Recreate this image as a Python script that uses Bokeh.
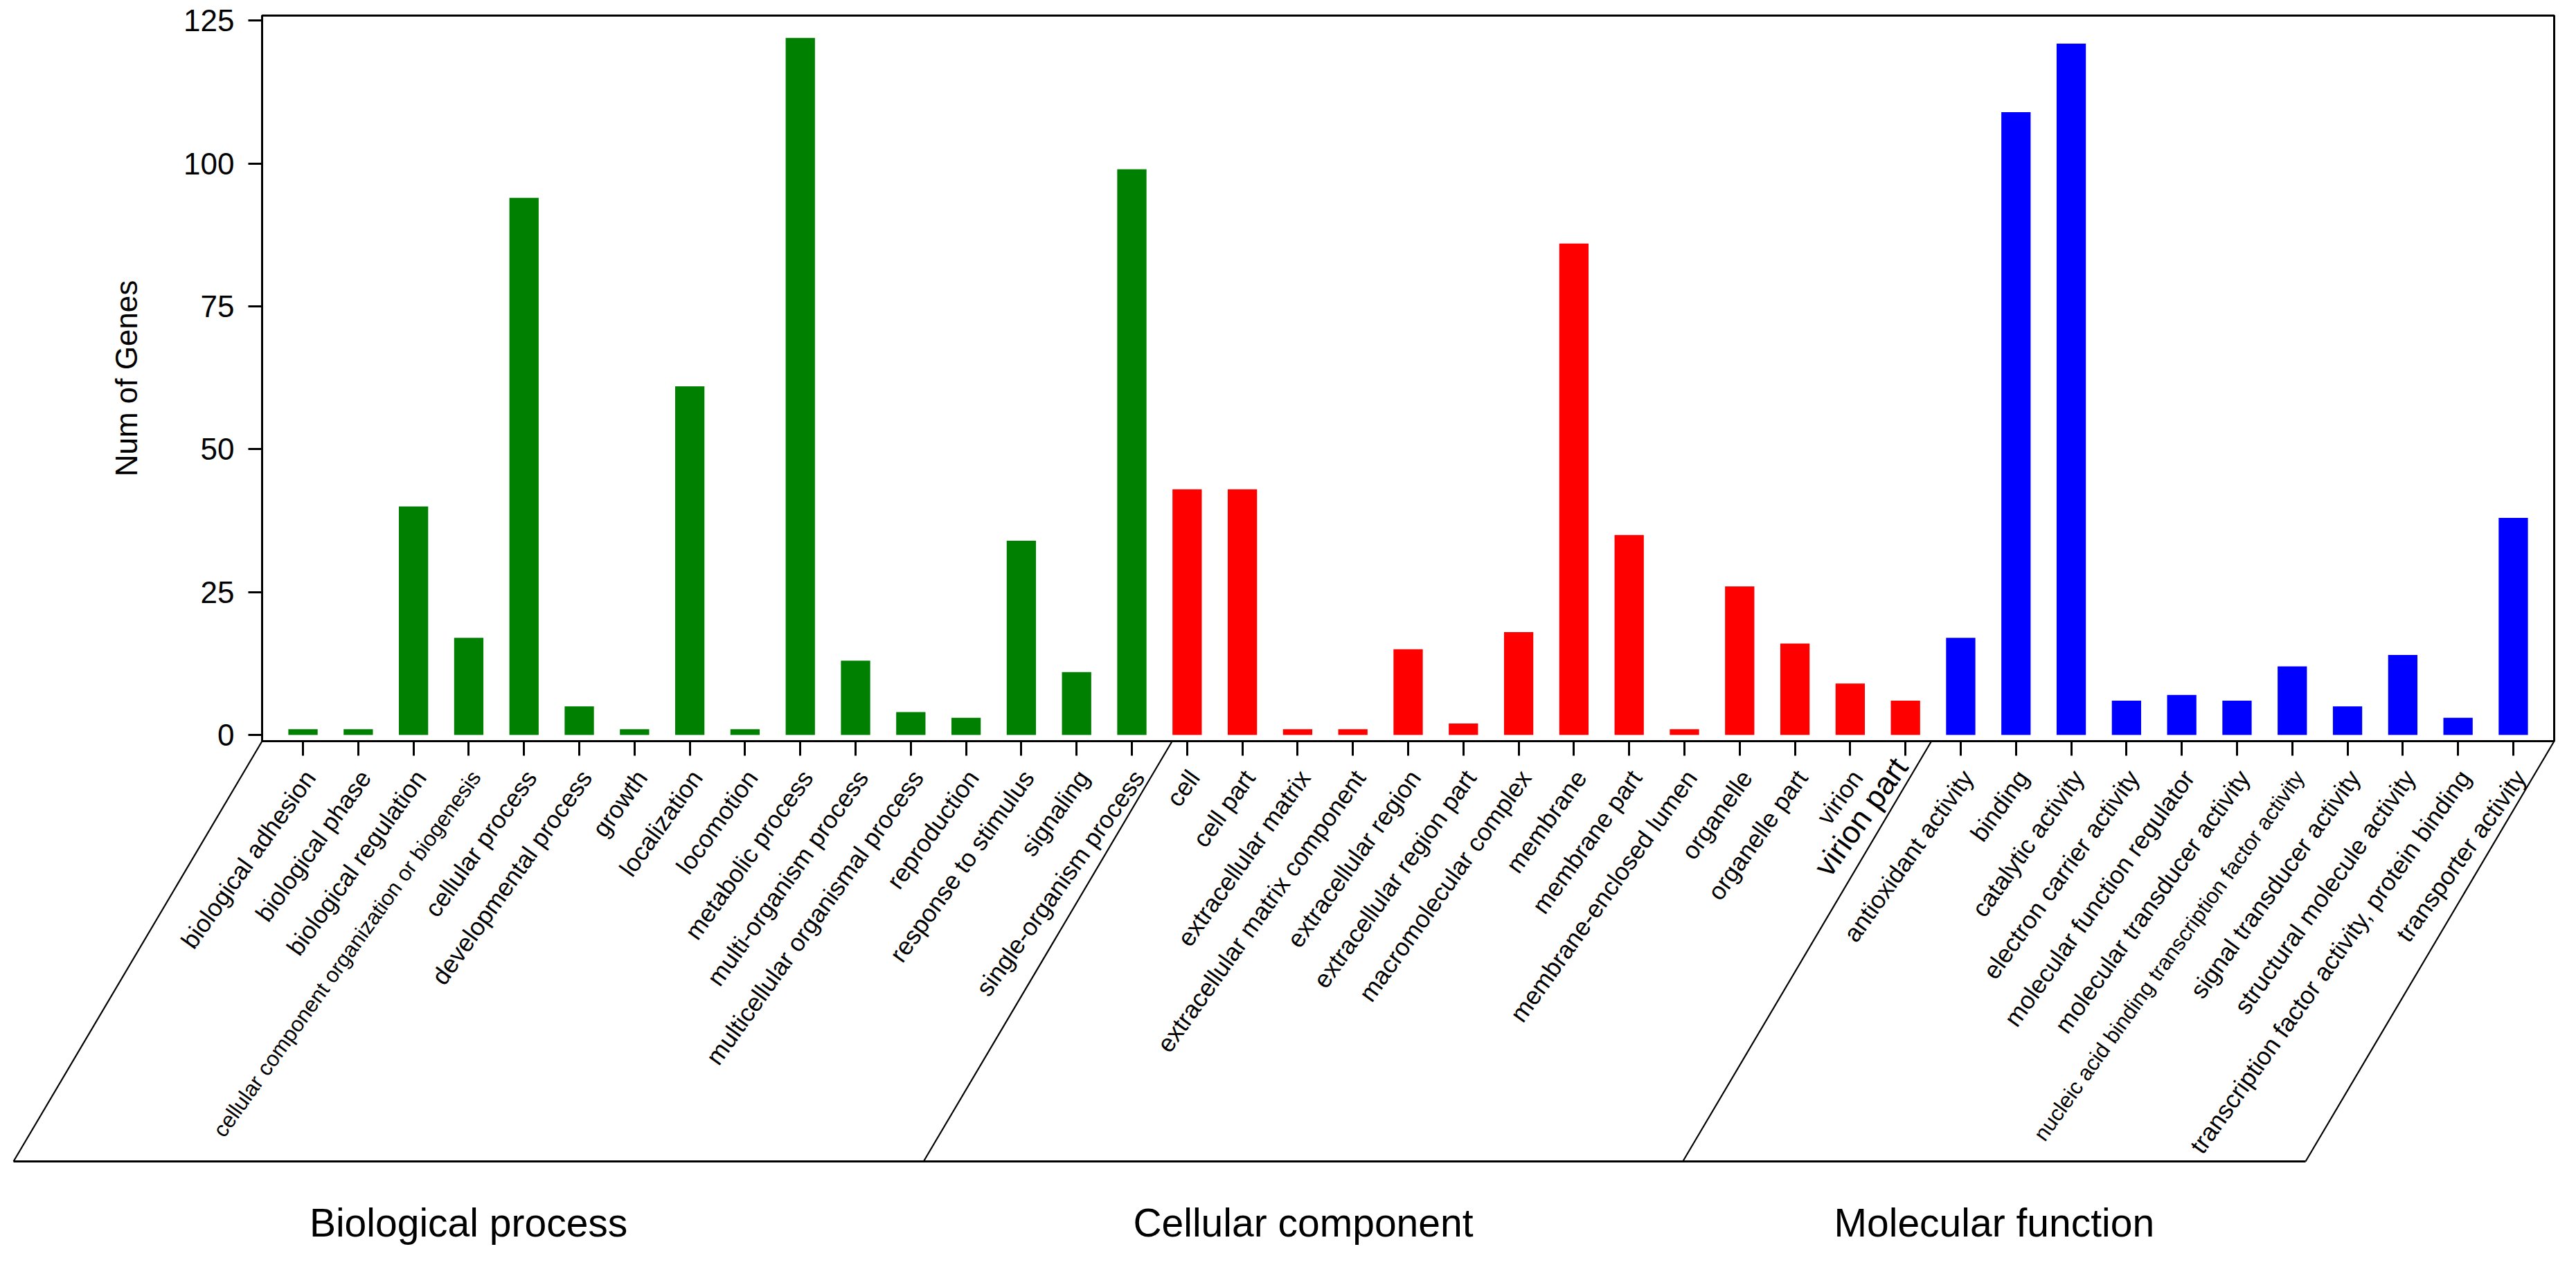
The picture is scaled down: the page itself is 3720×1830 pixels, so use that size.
from bokeh.plotting import figure
from bokeh.models import Range1d, FixedTicker, ColumnDataSource
from bokeh.embed import file_html
from bokeh.resources import INLINE
from bokeh.core.properties import value

# ---------------- data ----------------
bp_terms = ["biological adhesion", "biological phase", "biological regulation",
            "cellular component organization or biogenesis", "cellular process",
            "developmental process", "growth", "localization", "locomotion",
            "metabolic process", "multi-organism process", "multicellular organismal process",
            "reproduction", "response to stimulus", "signaling", "single-organism process"]
bp_counts = [1, 1, 40, 17, 94, 5, 1, 61, 1, 122, 13, 4, 3, 34, 11, 99]

cc_terms = ["cell", "cell part", "extracellular matrix", "extracellular matrix component",
            "extracellular region", "extracellular region part", "macromolecular complex",
            "membrane", "membrane part", "membrane-enclosed lumen", "organelle",
            "organelle part", "virion", "virion part"]
cc_counts = [43, 43, 1, 1, 15, 2, 18, 86, 35, 1, 26, 16, 9, 6]

mf_terms = ["antioxidant activity", "binding", "catalytic activity", "electron carrier activity",
            "molecular function regulator", "molecular transducer activity",
            "nucleic acid binding transcription factor activity", "signal transducer activity",
            "structural molecule activity", "transcription factor activity, protein binding",
            "transporter activity"]
mf_counts = [17, 109, 121, 6, 7, 6, 12, 5, 14, 3, 38]

group_names = ["Biological process", "Cellular component", "Molecular function"]
y_ticks = [0, 25, 50, 75, 100, 125]
y_title = "Num of Genes"

# ---------------- styles ----------------
group_colors = ["#008000", "#FF0000", "#0000FF"]
FONT = "Liberation Sans"
label_size = "36px"
size_override = {
    "cellular component organization or biogenesis": "31.5px",
    "nucleic acid binding transcription factor activity": "31.5px",
    "virion part": "45px",
}
# pixel nudges (dx right, dy down) for individual labels
nudge = {"virion part": (-17, -17)}
# shift of the group separators from the mid-gap, in bar slots
cut_shift = [0.23, -0.03]

groups = [(bp_terms, bp_counts), (cc_terms, cc_counts), (mf_terms, mf_counts)]
terms, counts, colors, idx = [], [], [], []
bounds = []
k = 0
for g, (t, c) in enumerate(groups):
    start = k
    for name, val in zip(t, c):
        terms.append(name)
        counts.append(val)
        colors.append(group_colors[g])
        idx.append(k)
        k += 1
    bounds.append((start, k - 1))
n = len(terms)

W, H = 3704, 1814
BL, BR, BT, BB = 378, 16, 22, 744
frame_w = W - BL - BR
frame_h = H - BT - BB
pad = 0.74
x_lo, x_hi = -pad, n - 1 + pad
y_lo, y_hi = -1.09, 125.9
px_x = frame_w / (x_hi - x_lo)
px_y = frame_h / (y_hi - y_lo)

p = figure(width=W, height=H, output_backend="svg", toolbar_location=None,
           x_range=Range1d(x_lo, x_hi), y_range=Range1d(y_lo, y_hi),
           min_border_left=BL, min_border_right=BR, min_border_top=BT, min_border_bottom=BB)
p.grid.visible = False
p.outline_line_color = "black"
p.outline_line_width = 3
p.background_fill_color = "white"
p.border_fill_color = "white"

src = ColumnDataSource(dict(x=idx, top=counts, color=colors))
p.vbar(x="x", top="top", bottom=0, width=0.53, fill_color="color", line_color=None, source=src)

# y axis
ya = p.yaxis[0]
ya.ticker = FixedTicker(ticks=y_ticks)
ya.minor_tick_line_color = None
ya.major_tick_out = 20
ya.major_tick_in = 0
ya.major_tick_line_width = 3
ya.axis_line_width = 3
ya.major_label_text_font = FONT
ya.major_label_text_font_size = "44px"
ya.major_label_text_color = "black"
ya.major_label_standoff = 20
ya.axis_label = y_title
ya.axis_label_text_font = FONT
ya.axis_label_text_font_size = "44px"
ya.axis_label_text_font_style = "normal"
ya.axis_label_text_color = "black"
ya.axis_label_standoff = 55

# x axis: ticks only, labels drawn below as text
xa = p.xaxis[0]
xa.ticker = FixedTicker(ticks=idx)
xa.minor_tick_line_color = None
xa.major_tick_out = 21
xa.major_tick_in = 0
xa.major_tick_line_width = 3
xa.axis_line_width = 3
xa.major_label_overrides = {i: "" for i in idx}
xa.major_label_text_font_size = "1px"

# category labels (overlay level so they can leave the frame)
base_dx, base_dy = 10, 46     # px right of tick, px below frame bottom
lx, ly = [], []
for i, t in zip(idx, terms):
    ndx, ndy = nudge.get(t, (0, 0))
    lx.append(i + (base_dx + ndx) / px_x)
    ly.append(y_lo - (base_dy + ndy) / px_y)
lab_src = ColumnDataSource(dict(
    x=lx, y=ly, text=terms,
    size=[size_override.get(t, label_size) for t in terms]))
p.text(x="x", y="y", text="text", source=lab_src, angle=54.5, angle_units="deg",
       text_align="right", text_baseline="middle",
       text_font=value(FONT), text_font_size="size", text_color="black", level="overlay")

# slanted group boundary lines and bottom line
dx_units = -359 / px_x
dy_units = 607 / px_y
y_bot = y_lo - dy_units
cuts = [x_lo] + [bounds[g][1] + 0.5 + cut_shift[g] for g in range(len(bounds) - 1)] + [x_hi]
seg = ColumnDataSource(dict(
    x0=cuts + [cuts[0] + dx_units],
    y0=[y_lo] * len(cuts) + [y_bot],
    x1=[c + dx_units for c in cuts] + [cuts[-1] + dx_units],
    y1=[y_bot] * len(cuts) + [y_bot],
    w=[2.2] * len(cuts) + [3]))
p.segment(x0="x0", y0="y0", x1="x1", y1="y1", line_width="w", line_color="black",
          source=seg, level="overlay")

# group titles
title_y = y_lo - 695 / px_y
tx = [(cuts[g] + cuts[g + 1]) / 2 + dx_units for g in range(len(group_names))]
p.text(x=tx, y=[title_y] * len(tx), text=group_names, text_align="center",
       text_baseline="middle", text_font=value(FONT), text_font_size="57px",
       text_color="black", level="overlay")

open("out.html", "w").write(file_html(p, INLINE))
